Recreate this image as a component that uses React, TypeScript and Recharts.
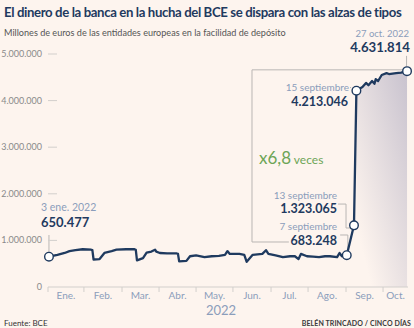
import React from "react";
import { ComposedChart, Line, Area, XAxis, YAxis, ReferenceLine } from "recharts";

// Depósitos de la banca en la facilidad de depósito del BCE (millones de euros)
const dates = [
  "2022-01-03", "2022-01-10", "2022-01-16", "2022-01-20", "2022-01-25", "2022-01-31",
  "2022-02-07", "2022-02-08", "2022-02-09", "2022-02-14", "2022-02-18", "2022-02-24", "2022-02-28",
  "2022-03-08", "2022-03-15", "2022-03-16", "2022-03-17", "2022-03-22", "2022-03-25", "2022-03-29",
  "2022-04-01", "2022-04-02", "2022-04-05", "2022-04-11", "2022-04-19", "2022-04-20", "2022-04-21",
  "2022-04-27", "2022-04-30", "2022-05-05", "2022-05-12", "2022-05-18", "2022-05-24", "2022-05-29",
  "2022-05-31", "2022-06-02", "2022-06-10", "2022-06-14", "2022-06-16", "2022-06-21", "2022-06-29",
  "2022-07-02", "2022-07-04", "2022-07-10", "2022-07-16", "2022-07-22", "2022-07-26", "2022-07-29",
  "2022-07-31", "2022-08-05", "2022-08-10", "2022-08-15", "2022-08-20", "2022-08-24", "2022-08-30",
  "2022-09-01", "2022-09-03", "2022-09-07", "2022-09-13", "2022-09-15", "2022-09-20", "2022-09-23",
  "2022-09-25", "2022-09-28", "2022-09-30", "2022-10-01", "2022-10-03", "2022-10-06", "2022-10-10",
  "2022-10-12", "2022-10-18", "2022-10-22", "2022-10-27",
];
const deposits = [
  650477, 690000, 730000, 770000, 790000, 810000,
  800000, 790000, 590000, 600000, 730000, 770000, 800000,
  810000, 810000, 800000, 570000, 620000, 740000, 760000,
  800000, 760000, 730000, 720000, 720000, 710000, 550000,
  560000, 660000, 680000, 640000, 660000, 670000, 690000,
  770000, 710000, 710000, 690000, 540000, 690000, 710000,
  790000, 710000, 680000, 640000, 660000, 660000, 600000,
  710000, 660000, 650000, 640000, 660000, 660000, 640000,
  730000, 660000, 683248, 1323065, 4213046, 4290000, 4380000,
  4330000, 4420000, 4360000, 4460000, 4420000, 4550000, 4590000,
  4570000, 4590000, 4600000, 4631814,
];
const monthLabels = ["Ene.", "Feb.", "Mar.", "Abr.", "May.", "Jun.", "Jul.", "Ago.", "Sep.", "Oct."];
const monthTickDays = [1.2, 31, 62.6, 93.3, 124, 154.6, 186.2, 216.9, 248.4, 279.1];
const yTicks = [0, 1000000, 2000000, 3000000, 4000000, 5000000];
const markedDates = ["2022-01-03", "2022-09-07", "2022-09-13", "2022-09-15", "2022-10-27"];
const shadeFrom = "2022-09-15";

const X_MIN = 1.2;
const X_MAX = 299.8;
const PLOT_W = 360;
const PX_PER_DAY = PLOT_W / (X_MAX - X_MIN);

const NAVY = "#1f3a5f";
const BLUEGRAY = "#8b9dbb";
const GUIDE = "#b9b6b4";
const FONT = "Lato, 'Open Sans', sans-serif";

const dayOfYear = (d: string) => {
  const [y, m, dd] = d.split("-").map(Number);
  return (Date.UTC(y, m - 1, dd) - Date.UTC(y, 0, 1)) / 86400000;
};
const fmt = (v: number) => String(v).replace(/\B(?=(\d{3})+(?!\d))/g, ".");

const data = dates.map((d, i) => ({
  date: d,
  day: dayOfYear(d),
  value: deposits[i],
  shade: d >= shadeFrom ? deposits[i] : null,
}));

const MonthTick = (props: any) => {
  const { x, y, payload, index } = props;
  const next = monthTickDays[index + 1] ?? X_MAX;
  const off = ((next - payload.value) / 2) * PX_PER_DAY;
  return (
    <text x={x + off} y={y + 6} textAnchor="middle" fontSize={10} fill={BLUEGRAY} fontFamily={FONT}>
      {monthLabels[index]}
    </text>
  );
};

const ValueTick = (props: any) => {
  const { x, y, payload } = props;
  return (
    <g>
      <text x={x - 6} y={y + 3} textAnchor="end" fontSize={9} fill="#8a8a8a" fontFamily={FONT}>
        {fmt(payload.value)}
      </text>
      {payload.value > 0 && <line x1={x} x2={x + 9} y1={y} y2={y} stroke="#d2cfcc" />}
    </g>
  );
};

const MarkDot = (props: any) => {
  const { cx, cy, payload, index } = props;
  if (!markedDates.includes(payload.date)) return <g key={index} />;
  return <circle key={index} cx={cx} cy={cy} r={4.3} fill="#ffffff" stroke={NAVY} strokeWidth={1.4} />;
};

const guide = (seg: { x: number; y: number }[], key: string, dash?: string) => (
  <ReferenceLine
    key={key}
    segment={seg}
    stroke={GUIDE}
    strokeWidth={1}
    strokeDasharray={dash}
    ifOverflow="visible"
  />
);

const abs = (left: number, top: number, extra: React.CSSProperties = {}): React.CSSProperties => ({
  position: "absolute",
  left,
  top,
  lineHeight: 1,
  whiteSpace: "nowrap",
  fontFamily: FONT,
  ...extra,
});

const right = (rightEdge: number, top: number, extra: React.CSSProperties = {}): React.CSSProperties => ({
  position: "absolute",
  right: 414 - rightEdge,
  top,
  lineHeight: 1,
  whiteSpace: "nowrap",
  fontFamily: FONT,
  textAlign: "right",
  ...extra,
});

export default function App() {
  return (
    <div style={{ position: "fixed", left: 0, top: 0, width: 414, height: 328, background: "#fdf4ee", overflow: "hidden" }}>
      <div style={abs(4, 6, { fontSize: 13.2, fontWeight: 700, color: NAVY, letterSpacing: -0.38 })}>
        El dinero de la banca en la hucha del BCE se dispara con las alzas de tipos
      </div>
      <div style={abs(4, 28, { fontSize: 9.1, color: "#555555" })}>
        Millones de euros de las entidades europeas en la facilidad de depósito
      </div>

      <ComposedChart
        width={414}
        height={328}
        data={data}
        margin={{ top: 54, right: 6, bottom: 0, left: 0 }}
        style={{ position: "absolute", left: 0, top: 0 }}
      >
        <defs>
          <linearGradient id="shadeFill" x1="0" y1="1" x2="0.9" y2="0">
            <stop offset="0.15" stopColor="#c9c3cf" stopOpacity={0} />
            <stop offset="1" stopColor="#c9c3cf" stopOpacity={0.95} />
          </linearGradient>
        </defs>
        <XAxis
          dataKey="day"
          type="number"
          domain={[X_MIN, X_MAX]}
          ticks={monthTickDays}
          tick={<MonthTick />}
          tickSize={5}
          tickMargin={1}
          stroke="#d2cfcc"
          tickLine={{ stroke: "#d2cfcc" }}
          height={41}
          interval={0}
        />
        <YAxis
          type="number"
          domain={[0, 5000000]}
          ticks={yTicks}
          tick={<ValueTick />}
          tickLine={false}
          axisLine={false}
          tickSize={0}
          tickMargin={0}
          width={48}
          interval={0}
        />
        {guide([{ x: 170.4, y: 4660000 }, { x: 296, y: 4660000 }], "boxTop")}
        {guide([{ x: 170.4, y: 4660000 }, { x: 170.4, y: 966000 }], "boxLeft")}
        {guide([{ x: 170.4, y: 966000 }, { x: 201, y: 966000 }], "boxBottom")}
        {guide([{ x: 2, y: 1116000 }, { x: 2, y: 740000 }], "jan")}
        {guide([{ x: 298.6, y: 4960000 }, { x: 298.6, y: 4730000 }], "oct")}
        {guide([{ x: 251.7, y: 4280000 }, { x: 255.5, y: 4280000 }], "sep15", "1 1.5")}
        {guide([{ x: 241.8, y: 1780000 }, { x: 248.4, y: 1780000 }], "sep13a")}
        {guide([{ x: 248.4, y: 1780000 }, { x: 248.4, y: 1266000 }], "sep13b")}
        {guide([{ x: 248.4, y: 1266000 }, { x: 253.3, y: 1266000 }], "sep13c")}
        {guide([{ x: 243.5, y: 1116000 }, { x: 249.9, y: 1116000 }], "sep7a")}
        {guide([{ x: 249.9, y: 1116000 }, { x: 249.9, y: 780000 }], "sep7b")}
        <Area
          dataKey="shade"
          type="linear"
          stroke="none"
          fill="url(#shadeFill)"
          fillOpacity={1}
          connectNulls={false}
          isAnimationActive={false}
          activeDot={false}
        />
        <Line
          dataKey="value"
          type="linear"
          stroke={NAVY}
          strokeWidth={2.3}
          strokeLinejoin="round"
          dot={<MarkDot />}
          activeDot={false}
          isAnimationActive={false}
        />
      </ComposedChart>

      <div style={abs(206, 304, { fontSize: 13, color: BLUEGRAY })}>2022</div>

      <div style={abs(41, 202, { fontSize: 10.5, color: BLUEGRAY })}>3 ene. 2022</div>
      <div style={abs(41, 216, { fontSize: 13, fontWeight: 700, color: NAVY })}>650.477</div>

      <div style={right(409, 29, { fontSize: 9.5, color: BLUEGRAY })}>27 oct. 2022</div>
      <div style={right(410, 41, { fontSize: 13.2, fontWeight: 700, color: NAVY })}>4.631.814</div>

      <div style={right(349, 82, { fontSize: 10, color: BLUEGRAY })}>15 septiembre</div>
      <div style={right(348, 96, { fontSize: 12.5, fontWeight: 700, color: NAVY })}>4.213.046</div>

      <div style={abs(259, 149, { color: "#6da556" })}>
        <span style={{ fontSize: 17 }}>x6,8</span>
        <span style={{ fontSize: 12 }}> veces</span>
      </div>

      <div style={right(337, 190, { fontSize: 10, color: BLUEGRAY })}>13 septiembre</div>
      <div style={right(337, 203, { fontSize: 12.5, fontWeight: 700, color: NAVY })}>1.323.065</div>
      <div style={right(337, 221, { fontSize: 10, color: BLUEGRAY })}>7 septiembre</div>
      <div style={right(337, 235, { fontSize: 12.5, fontWeight: 700, color: NAVY })}>683.248</div>

      <div style={abs(4, 319, { fontSize: 8, color: "#333333" })}>Fuente: BCE</div>
      <div style={right(411, 320, { fontSize: 7, fontWeight: 700, color: "#3a3a3a", letterSpacing: 0.1 })}>
        BELÉN TRINCADO / CINCO DÍAS
      </div>
    </div>
  );
}
